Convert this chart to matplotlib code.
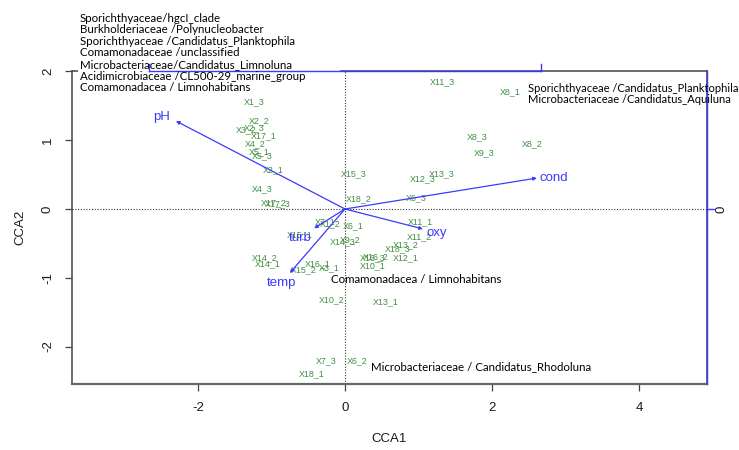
import matplotlib
matplotlib.use("Agg")
import matplotlib.pyplot as plt
from matplotlib import font_manager as fm
from matplotlib.patches import Rectangle

# site scores (CCA1, CCA2)
sites = ["X1_3", "X2_2", "X3_2", "X2_3", "X17_1", "X4_2", "X5_1", "X5_3",
         "X2_1", "X15_3", "X4_3", "X17_3", "X17_2", "X18_2", "X11_3", "X8_1",
         "X8_3", "X8_2", "X9_3", "X12_3", "X13_3", "X6_3", "X11_1", "X11_2",
         "X18_3", "X13_2", "X16_3", "X16_2", "X12_1", "X10_1", "X6_1", "X7_1",
         "X1_2", "X15_1", "X14_3", "X9_2", "X14_2", "X14_1", "X15_2", "X16_1",
         "X3_1", "X10_2", "X13_1", "X7_3", "X6_2", "X18_1"]
cca1 = [-1.24, -1.17, -1.35, -1.24, -1.10, -1.22, -1.17, -1.12,
        -0.98, 0.12, -1.13, -0.91, -0.97, 0.19, 1.32, 2.25,
        1.80, 2.54, 1.89, 1.05, 1.31, 0.97, 1.03, 1.01,
        0.71, 0.82, 0.37, 0.42, 0.83, 0.37, 0.11, -0.27,
        -0.20, -0.61, -0.03, 0.07, -1.09, -1.05, -0.56, -0.37,
        -0.22, -0.18, 0.56, -0.25, 0.16, -0.46]
cca2 = [1.56, 1.28, 1.16, 1.18, 1.06, 0.95, 0.83, 0.77,
        0.57, 0.52, 0.29, 0.07, 0.09, 0.15, 1.85, 1.70,
        1.05, 0.95, 0.82, 0.44, 0.51, 0.16, -0.19, -0.41,
        -0.58, -0.52, -0.71, -0.70, -0.71, -0.82, -0.25, -0.19,
        -0.22, -0.38, -0.48, -0.45, -0.71, -0.79, -0.89, -0.80,
        -0.86, -1.32, -1.35, -2.21, -2.20, -2.40]

# environmental biplot arrows
env = ["pH", "cond", "oxy", "turb", "temp"]
env_x = [-2.30, 2.61, 1.06, -0.42, -0.75]
env_y = [1.28, 0.45, -0.29, -0.28, -0.93]
# label offsets from arrow tips (points)
env_off = [(-10, 3), (12, 0), (10, -3), (-10, -7), (-6, -7)]

taxa_top = ["Sporichthyaceae/hgcI_clade",
            "Burkholderiaceae /Polynucleobacter",
            "Sporichthyaceae /Candidatus_Planktophila",
            "Comamonadaceae /unclassified",
            "Microbacteriaceae/Candidatus_Limnoluna",
            "Acidimicrobiaceae /CL500-29_marine_group",
            "Comamonadacea / Limnohabitans"]
taxa_right = ["Sporichthyaceae /Candidatus_Planktophila",
              "Microbacteriaceae /Candidatus_Aquiluna"]

plt.rcParams["axes.unicode_minus"] = False

# Arial-metric font for the R-style axes and labels
arial = None
for f in fm.findSystemFonts():
    if f.endswith("LiberationSans-Regular.ttf"):
        arial = fm.FontProperties(fname=f)
        break
if arial is None:
    arial = fm.FontProperties(family="DejaVu Sans")


def rfont(size):
    p = arial.copy()
    p.set_size(size)
    return p


W, H = 739, 450
fig = plt.figure(figsize=(W / 100, H / 100), dpi=100)
ax = fig.add_axes([72 / W, 1 - 384 / H, 635 / W, 313 / H])
ax.set_xlim(-3.714, 4.925)
ax.set_ylim(-2.545, 2.007)

blue = "#3a3aff"
green = "#3f8f3f"
frame = "#444444"
ink = "#1a1a1a"

for s in ax.spines.values():
    s.set_color(frame)
    s.set_linewidth(1.1)
ax.spines["bottom"].set_linewidth(1.6)
ax.spines["bottom"].set_color("#666666")

ax.set_xticks([-2, 0, 2, 4])
ax.set_yticks([-2, -1, 0, 1, 2])
ax.tick_params(direction="out", length=5, width=0.9, color=frame, labelcolor=ink)
ax.tick_params(axis="x", pad=8)
ax.tick_params(axis="y", pad=8)
for lab in ax.get_yticklabels():
    lab.set_rotation(90)
    lab.set_va("center")
for lab in ax.get_xticklabels() + ax.get_yticklabels():
    lab.set_fontproperties(rfont(9.5))

ax.set_xlabel("CCA1", fontproperties=rfont(9.5), labelpad=14, color=ink)
ax.set_ylabel("CCA2", fontproperties=rfont(9.5), labelpad=11, color=ink)

ax.axhline(0, color="#333333", lw=0.8, ls=(0, (1, 1.5)), zorder=1)
ax.axvline(0, color="#333333", lw=0.8, ls=(0, (1, 1.5)), zorder=1)

for name, x, y in zip(sites, cca1, cca2):
    ax.text(x, y, name, fontproperties=rfont(6.4), color=green, ha="center",
            va="center", zorder=3)

for name, x, y, off in zip(env, env_x, env_y, env_off):
    ax.annotate("", xy=(x, y), xytext=(0, 0),
                arrowprops=dict(arrowstyle="-|>", color=blue, lw=0.9,
                                mutation_scale=5, shrinkA=0, shrinkB=0),
                zorder=4)
    ax.annotate(name, xy=(x, y), xytext=off, textcoords="offset points",
                fontproperties=rfont(9.5), color=blue, ha="center", va="center",
                zorder=5)

# white backing behind the taxa list where it crosses the frame
tr = fig.transFigure
ax.add_patch(Rectangle((78 / W, 1 - 93 / H), 262 / W, 80 / H, transform=tr,
                       facecolor="white", edgecolor="none", clip_on=False, zorder=6))

# secondary (biplot) axes in blue
ax.plot([-2.66, 2.66], [2.007, 2.007], color=blue, lw=1.0, clip_on=False, zorder=7)
for xt in [-2.66, 2.66]:
    ax.plot([xt, xt], [2.007, 2.007 + 0.1], color=blue, lw=1.0, clip_on=False, zorder=7)
ax.plot([4.925, 4.925], [-2.545, 2.007], color=blue, lw=1.0, clip_on=False, zorder=7)
ax.plot([4.925, 4.925 + 0.095], [0, 0], color=blue, lw=1.0, clip_on=False, zorder=7)
ax.text(4.925 + 0.2, 0, "0", rotation=90, fontproperties=rfont(9.5), ha="center",
        va="center", color=ink, clip_on=False)

# taxa annotations
note = dict(fontsize=8.3, family="Lato", color="black", va="center", ha="left", zorder=8)
for i, t in enumerate(taxa_top):
    ax.text(80 / W, 1 - (18 + i * 11.6) / H, t, transform=tr, **note)
for i, t in enumerate(taxa_right):
    ax.text(528 / W, 1 - (88 + i * 11.5) / H, t, transform=tr,
            **{**note, "fontsize": 8.0})
ax.text(-0.19, -1.03, "Comamonadacea / Limnohabitans", **note)
ax.text(0.36, -2.29, "Microbacteriaceae / Candidatus_Rhodoluna", **note)

fig.savefig("out.png", dpi=100)
